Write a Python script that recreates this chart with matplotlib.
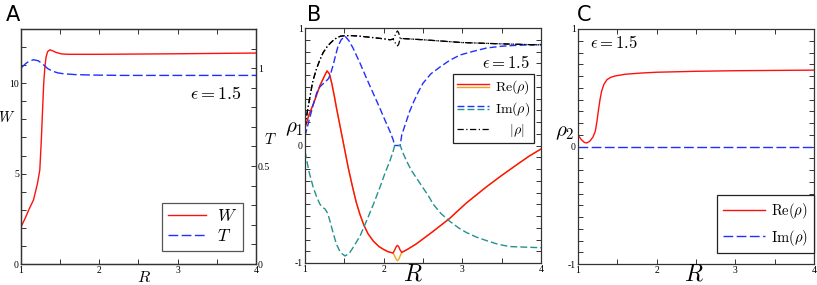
import matplotlib
matplotlib.use("Agg")
import matplotlib.pyplot as plt
import matplotlib.ticker as ticker
from matplotlib.lines import Line2D
from matplotlib.legend_handler import HandlerBase

plt.rcParams['mathtext.fontset'] = 'cm'
plt.rcParams['font.family'] = ['Liberation Serif', 'DejaVu Serif']
plt.rcParams['axes.unicode_minus'] = False

# ---------------- Panel A: W and T vs R ----------------
R_w = [1.00, 1.05, 1.10, 1.16, 1.21, 1.24, 1.26, 1.275, 1.29, 1.305, 1.32, 1.34,
       1.37, 1.40, 1.45, 1.52, 1.60, 2.00, 3.00, 4.00]
W = [2.05, 2.5, 3.0, 3.55, 4.45, 5.2, 6.9, 8.5, 10.0, 10.9, 11.45, 11.75,
     11.85, 11.8, 11.7, 11.62, 11.6, 11.6, 11.63, 11.67]

R_t = [1.00, 1.05, 1.10, 1.16, 1.22, 1.28, 1.34, 1.40, 1.47, 1.55, 1.70, 1.90,
       2.30, 3.00, 4.00]
T = [1.00, 1.02, 1.035, 1.043, 1.038, 1.02, 0.998, 0.985, 0.976, 0.971, 0.967,
     0.965, 0.963, 0.963, 0.963]

# ---------------- Panel B: rho_1 ----------------
R_re = [1.00, 1.05, 1.11, 1.19, 1.25, 1.28, 1.31, 1.34, 1.37, 1.40, 1.45, 1.50,
        1.55, 1.60, 1.65, 1.70, 1.75, 1.80, 1.87, 1.94, 2.00, 2.06, 2.12, 2.14,
        2.16, 2.175, 2.19, 2.21, 2.23, 2.30, 2.42, 2.63, 2.84, 3.05, 3.31, 3.50,
        3.70, 3.85, 4.00]
re_1 = [0.15, 0.26, 0.36, 0.51, 0.595, 0.635, 0.61, 0.53, 0.43, 0.32, 0.15, -0.02,
        -0.19, -0.34, -0.48, -0.59, -0.68, -0.75, -0.815, -0.86, -0.885, -0.905, -0.915, -0.89,
        -0.86, -0.85, -0.86, -0.89, -0.91, -0.885, -0.835, -0.73, -0.62, -0.49, -0.35, -0.255,
        -0.16, -0.09, -0.03]
re_2 = [0.15, 0.26, 0.36, 0.51, 0.595, 0.635, 0.61, 0.53, 0.43, 0.32, 0.15, -0.02,
        -0.19, -0.34, -0.48, -0.59, -0.68, -0.75, -0.815, -0.86, -0.885, -0.905, -0.915, -0.94,
        -0.97, -0.98, -0.97, -0.94, -0.91, -0.885, -0.835, -0.73, -0.62, -0.49, -0.35, -0.255,
        -0.16, -0.09, -0.03]

R_im1 = [1.00, 1.06, 1.11, 1.15, 1.19, 1.23, 1.27, 1.30, 1.33, 1.36, 1.39, 1.42,
         1.46, 1.51, 1.56, 1.61, 1.70, 1.78, 1.87, 1.95, 2.02, 2.08, 2.12, 2.14,
         2.175, 2.21, 2.23, 2.26, 2.29, 2.33, 2.38, 2.44, 2.50, 2.60, 2.72, 2.84,
         2.97, 3.13, 3.31, 3.50, 3.70, 4.00]
im_1 = [0.08, 0.235, 0.36, 0.45, 0.50, 0.525, 0.55, 0.57, 0.62, 0.69, 0.77, 0.845,
        0.90, 0.93, 0.89, 0.83, 0.70, 0.575, 0.44, 0.32, 0.21, 0.12, 0.05, 0.0,
        0.0, 0.0, 0.09, 0.15, 0.21, 0.29, 0.37, 0.455, 0.53, 0.61, 0.67, 0.725,
        0.77, 0.80, 0.83, 0.845, 0.853, 0.86]

R_im2 = [1.00, 1.05, 1.106, 1.15, 1.19, 1.23, 1.254, 1.29, 1.318, 1.36, 1.40, 1.45,
         1.508, 1.56, 1.61, 1.70, 1.78, 1.87, 1.95, 2.02, 2.08, 2.12, 2.14, 2.175,
         2.21, 2.25, 2.29, 2.35, 2.42, 2.50, 2.57, 2.63, 2.73, 2.84, 2.95, 3.05,
         3.18, 3.31, 3.45, 3.60, 3.80, 4.00]
im_2 = [-0.05, -0.22, -0.36, -0.44, -0.50, -0.53, -0.54, -0.58, -0.645, -0.75, -0.84, -0.91,
        -0.94, -0.92, -0.87, -0.77, -0.645, -0.50, -0.36, -0.23, -0.13, -0.05, 0.0, 0.0,
        0.0, -0.07, -0.13, -0.21, -0.28, -0.36, -0.43, -0.50, -0.58, -0.645, -0.70, -0.74,
        -0.78, -0.81, -0.84, -0.86, -0.865, -0.87]

R_abs = [1.00, 1.03, 1.06, 1.10, 1.15, 1.19, 1.23, 1.28, 1.32, 1.36, 1.40, 1.45,
         1.51, 1.60, 1.70, 1.80, 1.91, 2.00, 2.08, 2.12, 2.14, 2.16, 2.175, 2.19,
         2.21, 2.25, 2.50, 3.00, 3.50, 4.00]
abs_1 = [0.15, 0.29, 0.405, 0.55, 0.66, 0.73, 0.79, 0.84, 0.87, 0.895, 0.915, 0.93,
         0.935, 0.935, 0.93, 0.923, 0.915, 0.908, 0.90, 0.905, 0.93, 0.96, 0.975, 0.96,
         0.91, 0.91, 0.90, 0.876, 0.865, 0.856]
abs_2 = [0.15, 0.29, 0.405, 0.55, 0.66, 0.73, 0.79, 0.84, 0.87, 0.895, 0.915, 0.93,
         0.935, 0.935, 0.93, 0.923, 0.915, 0.908, 0.90, 0.905, 0.88, 0.86, 0.848, 0.86,
         0.91, 0.91, 0.90, 0.876, 0.865, 0.856]

# ---------------- Panel C: rho_2 ----------------
R_c = [1.00, 1.04, 1.08, 1.11, 1.15, 1.19, 1.22, 1.24, 1.26, 1.28, 1.30, 1.33,
       1.37, 1.42, 1.47, 1.60, 1.80, 2.00, 2.50, 3.00, 4.00]
re_c = [0.097, 0.06, 0.035, 0.03, 0.045, 0.08, 0.13, 0.21, 0.31, 0.40, 0.47, 0.53,
        0.57, 0.59, 0.60, 0.615, 0.625, 0.632, 0.64, 0.645, 0.65]
R_c_im = [1.0, 4.0]
im_c = [0.0, 0.0]

eps_label = r'$\epsilon = 1.5$'

RED = '#ff1010'
ORANGE = '#f7a21b'
BLUE = '#1f2fff'
TEAL = '#22928f'
FW, FH = 817, 285


def px(x, y):
    return x / FW, 1 - y / FH


class HandlerStack(HandlerBase):
    # two lines stacked on top of each other in one legend entry
    def create_artists(self, legend, orig_handle, xdescent, ydescent,
                       width, height, fontsize, trans):
        n = len(orig_handle)
        yc = (height - ydescent) / 2
        out = []
        for i, h in enumerate(orig_handle):
            off = ((n - 1) / 2 - i) * 2.6
            ln = Line2D([-xdescent, width - xdescent], [yc + off, yc + off])
            ln.update_from(h)
            ln.set_transform(trans)
            out.append(ln)
        return out


def style_axes(ax, yminor, left=True, right=True):
    for s in ax.spines.values():
        s.set_color('#333333')
        s.set_linewidth(0.9)
    ax.xaxis.set_major_locator(ticker.FixedLocator([1, 2, 3, 4]))
    ax.xaxis.set_minor_locator(ticker.MultipleLocator(0.5))
    ax.yaxis.set_minor_locator(ticker.MultipleLocator(yminor))
    ax.tick_params(which='both', direction='in', top=True, left=left, right=right,
                   length=3.5, width=0.7, color='#333333', labelsize=7, pad=1.5)


def box_legend(leg):
    leg.get_frame().set_linewidth(0.9)


fig = plt.figure(figsize=(FW / 100, FH / 100), dpi=100)

# ---- A ----
axA = fig.add_axes([21 / FW, 21 / FH, 235 / FW, 235 / FH])
axA.plot(R_w, W, color=RED, lw=1.0, label=r'$W$')
axA.set_xlim(1, 4)
axA.set_ylim(0, 13)
axA.yaxis.set_major_locator(ticker.FixedLocator([0, 5, 10]))
style_axes(axA, 1, left=True, right=False)
axT = axA.twinx()
axT.plot(R_t, T, color=BLUE, lw=1.0, dashes=(7, 2.5), label=r'$T$')
axT.set_ylim(0, 1.2)
axT.yaxis.set_major_locator(ticker.FixedLocator([0, 0.5, 1]))
axT.yaxis.set_major_formatter(ticker.FuncFormatter(lambda v, p: f'{v:g}'))
axT.yaxis.set_minor_locator(ticker.MultipleLocator(0.1))
axT.tick_params(which='both', direction='in', length=3.5, width=0.7,
                color='#333333', labelsize=7, pad=1.5)
for s in axT.spines.values():
    s.set_color('#333333')
    s.set_linewidth(0.9)
hA = [axA.get_lines()[0], axT.get_lines()[0]]
legA = axT.legend(handles=hA, loc='lower right', bbox_to_anchor=(0.945, 0.055),
                  borderaxespad=0, fontsize=12.5, handlelength=2.2, handletextpad=0.6,
                  labelspacing=0.2, borderpad=0.35, fancybox=False, framealpha=1,
                  edgecolor='#555555')
box_legend(legA)
axA.text(0.94, 0.72, eps_label, transform=axA.transAxes, fontsize=13,
         ha='right', va='center')

# ---- B ----
axB = fig.add_axes([305 / FW, 22 / FH, 236 / FW, 235 / FH])
l_or, = axB.plot(R_re, re_2, color=ORANGE, lw=1.0)
l_re, = axB.plot(R_re, re_1, color=RED, lw=1.0)
l_bl, = axB.plot(R_im1, im_1, color=BLUE, lw=1.0, dashes=(5, 2.2))
l_te, = axB.plot(R_im2, im_2, color=TEAL, lw=1.0, dashes=(5, 2.2))
axB.plot(R_abs, abs_2, color='black', lw=0.9, dashes=(5, 2, 1, 2))
l_ab, = axB.plot(R_abs, abs_1, color='black', lw=0.9, dashes=(5, 2, 1, 2))
axB.set_xlim(1, 4)
axB.set_ylim(-1, 1)
axB.yaxis.set_major_locator(ticker.FixedLocator([-1, 0, 1]))
style_axes(axB, 0.1)
legB = axB.legend(handles=[(l_re, l_or), (l_bl, l_te), l_ab],
                  labels=[r'$\mathrm{Re}(\rho)$', r'$\mathrm{Im}(\rho)$', r'$\ \ \ \,|\rho|$'],
                  handler_map={tuple: HandlerStack()},
                  loc='upper right', bbox_to_anchor=(0.97, 0.805), borderaxespad=0,
                  fontsize=10, handlelength=2.3, handletextpad=0.4, labelspacing=0.3,
                  borderpad=0.3, fancybox=False, framealpha=1, edgecolor='#222222')
box_legend(legB)
axB.text(0.953, 0.85, eps_label, transform=axB.transAxes, fontsize=12,
         ha='right', va='center')

# ---- C ----
axC = fig.add_axes([578 / FW, 21 / FH, 236 / FW, 235 / FH])
axC.plot(R_c, re_c, color=RED, lw=1.0, label=r'$\mathrm{Re}(\rho)$')
axC.plot(R_c_im, im_c, color=BLUE, lw=1.0, dashes=(7, 2.5), label=r'$\mathrm{Im}(\rho)$')
axC.set_xlim(1, 4)
axC.set_ylim(-1, 1)
axC.yaxis.set_major_locator(ticker.FixedLocator([-1, 0, 1]))
style_axes(axC, 0.1)
legC = axC.legend(loc='lower right', bbox_to_anchor=(1.0, 0.045), borderaxespad=0,
                  fontsize=10.5, handlelength=2.9, handletextpad=0.4, labelspacing=0.45,
                  borderpad=0.4, fancybox=False, framealpha=1, edgecolor='#222222')
box_legend(legC)
axC.text(0.05, 0.94, eps_label, transform=axC.transAxes, fontsize=12,
         ha='left', va='center')

# ---- axis labels and panel letters ----
fig.text(*px(7, 118), r'$W$', fontsize=10.5, ha='center', va='center')
fig.text(*px(270, 139), r'$T$', fontsize=11, ha='center', va='center')
fig.text(*px(294, 128), r'$\rho_1$', fontsize=15, ha='center', va='center')
fig.text(*px(565, 133), r'$\rho_2$', fontsize=15, ha='center', va='center')
fig.text(*px(144, 278), r'$R$', fontsize=11.5, ha='center', va='center')
fig.text(*px(413, 275), r'$R$', fontsize=17, ha='center', va='center')
fig.text(*px(694, 275), r'$R$', fontsize=17, ha='center', va='center')
for letter, x in [('A', 13), ('B', 314), ('C', 584)]:
    fig.text(*px(x, 15), letter, fontsize=15, fontweight='medium',
             family=['Liberation Sans Narrow', 'DejaVu Sans'], ha='center', va='center')

fig.savefig('out.png', dpi=100)
